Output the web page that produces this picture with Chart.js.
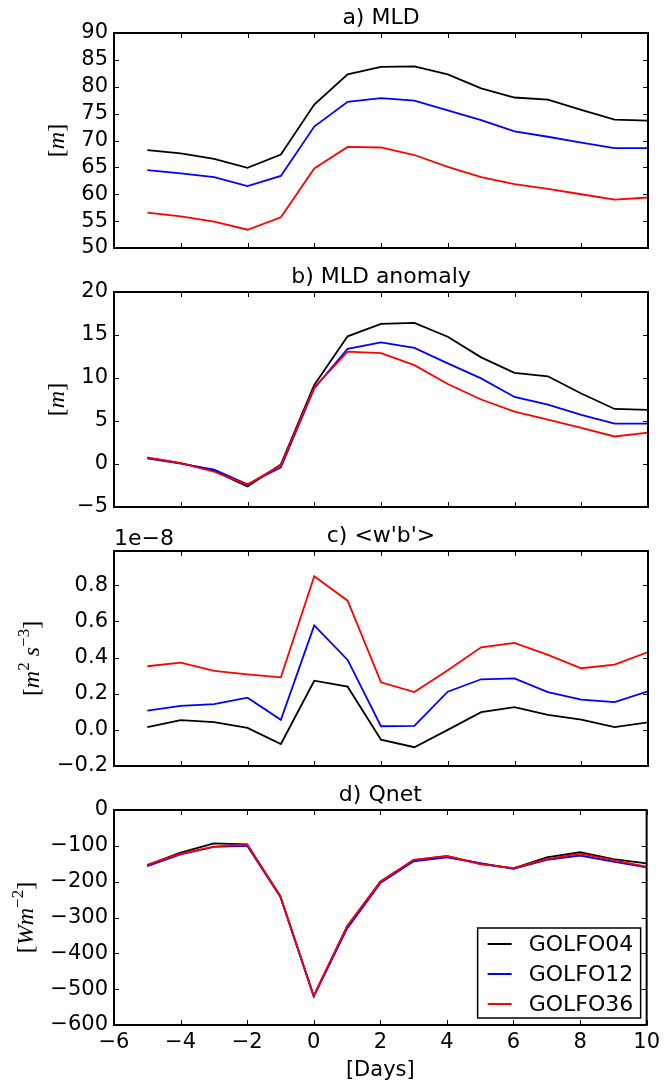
<!DOCTYPE html>
<html>
<head>
<meta charset="utf-8">
<script src="https://cdn.jsdelivr.net/npm/chart.js@4.4.0/dist/chart.umd.min.js"></script>
<style>
  body { margin: 0; background: #fff; }
  #wrap { position: relative; width: 665px; height: 1086px; }
  canvas { position: absolute; left: 0; }
</style>
</head>
<body>
<div id="wrap">
  <canvas id="pa" width="665" height="270" style="top:0px"></canvas>
  <canvas id="pb" width="665" height="270" style="top:259px"></canvas>
  <canvas id="pc" width="665" height="270" style="top:518px"></canvas>
  <canvas id="pd" width="665" height="309" style="top:777px"></canvas>
</div>
<script>
// days relative to event
const days = [-5, -4, -3, -2, -1, 0, 1, 2, 3, 4, 5, 6, 7, 8, 9, 10];
const xTicks = [-6, -4, -2, 0, 2, 4, 6, 8, 10];
const runs = ['GOLFO04', 'GOLFO12', 'GOLFO36'];
const colors = ['#000000', '#0000ff', '#ff0000'];

// a) MLD [m]
const mld04 = [68.2, 67.6, 66.6, 64.9, 67.4, 76.7, 82.3, 83.7, 83.8, 82.3, 79.7, 78.0, 77.6, 75.7, 73.9, 73.7];
const mld12 = [64.5, 63.9, 63.2, 61.5, 63.4, 72.6, 77.2, 77.9, 77.4, 75.6, 73.8, 71.7, 70.7, 69.6, 68.6, 68.6];
const mld36 = [56.6, 55.9, 54.9, 53.4, 55.7, 64.8, 68.8, 68.7, 67.3, 65.1, 63.2, 61.9, 61.0, 60.0, 59.0, 59.4];
const ticksA = [50, 55, 60, 65, 70, 75, 80, 85, 90];

// b) MLD anomaly [m]
const anom04 = [0.7, 0.1, -0.8, -2.6, -0.05, 9.2, 14.85, 16.3, 16.4, 14.8, 12.4, 10.6, 10.2, 8.2, 6.4, 6.3];
const anom12 = [0.65, 0.05, -0.65, -2.35, -0.4, 8.8, 13.4, 14.15, 13.5, 11.7, 9.95, 7.8, 6.9, 5.7, 4.7, 4.7];
const anom36 = [0.77, 0.1, -0.9, -2.4, -0.15, 8.9, 13.07, 12.9, 11.5, 9.3, 7.5, 6.1, 5.15, 4.2, 3.2, 3.65];
const ticksB = [-5, 0, 5, 10, 15, 20];

// c) <w'b'> in units of 1e-8 m2 s-3
const wb04 = [0.015, 0.054, 0.043, 0.011, -0.078, 0.272, 0.239, -0.054, -0.096, 0.0, 0.098, 0.126, 0.083, 0.057, 0.015, 0.041];
const wb12 = [0.106, 0.133, 0.143, 0.178, 0.056, 0.578, 0.387, 0.020, 0.022, 0.211, 0.280, 0.285, 0.209, 0.167, 0.154, 0.213];
const wb36 = [0.352, 0.372, 0.326, 0.307, 0.291, 0.850, 0.715, 0.263, 0.209, 0.330, 0.457, 0.481, 0.415, 0.341, 0.361, 0.431];
const ticksC = [-0.2, 0.0, 0.2, 0.4, 0.6, 0.8];

// d) Qnet [W m-2]
const qnet04 = [-154, -119, -93, -96, -241, -519, -325, -200, -140, -129, -150, -163, -132, -118, -137, -149];
const qnet12 = [-157, -124, -103, -100, -243, -521, -331, -204, -143, -132, -148, -164, -139, -127, -144, -160];
const qnet36 = [-153, -122, -102, -96, -241, -519, -325, -200, -139, -128, -151, -162, -137, -122, -140, -158];
const ticksD = [-600, -500, -400, -300, -200, -100, 0];

const FONT = '"DejaVu Sans", sans-serif';
const MATH = '"Liberation Serif", "DejaVu Serif", serif';
const minus = s => String(s).replace('-', '\u2212');

// frame, inward ticks, title, math ylabel and legend (matplotlib look)
const deco = {
  id: 'deco',
  afterDatasetsDraw(chart, args, o) {
    const ctx = chart.ctx, a = chart.chartArea;
    const xs = chart.scales.x, ys = chart.scales.y;
    ctx.save();
    ctx.strokeStyle = '#000';
    ctx.lineWidth = 1;
    ctx.beginPath();
    xTicks.forEach(v => {
      const px = Math.round(xs.getPixelForValue(v)) + 0.5;
      ctx.moveTo(px, a.bottom); ctx.lineTo(px, a.bottom - 5);
      ctx.moveTo(px, a.top); ctx.lineTo(px, a.top + 5);
    });
    ys.ticks.forEach(t => {
      const py = Math.round(ys.getPixelForValue(t.value)) + 0.5;
      ctx.moveTo(a.left, py); ctx.lineTo(a.left + 5, py);
      ctx.moveTo(a.right, py); ctx.lineTo(a.right - 5, py);
    });
    ctx.stroke();
    ctx.lineWidth = 2;
    ctx.strokeRect(a.left, a.top, a.right - a.left, a.bottom - a.top);
    ctx.restore();
  },
  afterDraw(chart, args, o) {
    const ctx = chart.ctx, a = chart.chartArea;
    ctx.save();
    ctx.fillStyle = '#000';
    // title
    ctx.font = '22px ' + FONT;
    ctx.textAlign = 'center';
    ctx.textBaseline = 'alphabetic';
    ctx.fillText(o.title, (a.left + a.right) / 2, a.top - 9);
    // offset text
    if (o.offset) {
      ctx.textAlign = 'left';
      ctx.fillText(o.offset, a.left, a.top - 6);
    }
    // y label, rotated, with italic letters and superscripts
    const sz = 24;
    const fontOf = p => (p.sup ? Math.round(sz * 0.7) + 'px ' : (p.it ? 'italic ' : '') + sz + 'px ') + MATH;
    let total = 0;
    o.ylabel.forEach(p => { ctx.font = fontOf(p); p.w = ctx.measureText(p.t).width; total += p.w; });
    ctx.translate(o.ylabelX, (a.top + a.bottom) / 2);
    ctx.rotate(-Math.PI / 2);
    ctx.textAlign = 'left';
    let x = -total / 2;
    o.ylabel.forEach(p => {
      ctx.font = fontOf(p);
      ctx.fillText(p.t, x, p.sup ? -sz * 0.42 : 0);
      x += p.w;
    });
    ctx.restore();
    // legend box inside the axes, lower right
    if (o.legend) {
      const w = 163, h = 90;
      const l = a.right - 6 - w, t = a.bottom - 7 - h;
      ctx.save();
      ctx.fillStyle = '#fff';
      ctx.fillRect(l, t, w, h);
      ctx.strokeStyle = '#000';
      ctx.lineWidth = 1.5;
      ctx.strokeRect(l, t, w, h);
      ctx.font = '22px ' + FONT;
      ctx.textBaseline = 'middle';
      runs.forEach((name, i) => {
        const y = t + 16 + i * 30;
        ctx.strokeStyle = colors[i];
        ctx.lineWidth = 2;
        ctx.beginPath();
        ctx.moveTo(l + 10, y); ctx.lineTo(l + 34, y);
        ctx.stroke();
        ctx.fillStyle = '#000';
        ctx.fillText(name, l + 51, y + 1);
      });
      ctx.restore();
    }
  }
};

function panel(id, series, yTicks, yMax, fmt, deco_opts, showX) {
  const ctx = document.getElementById(id).getContext('2d');
  return new Chart(ctx, {
    type: 'line',
    data: {
      datasets: series.map((vals, i) => ({
        label: runs[i],
        data: days.map((d, j) => ({ x: d, y: vals[j] })),
        borderColor: colors[i],
        borderWidth: 1.8,
        pointRadius: 0,
        tension: 0,
        fill: false,
        order: 3 - i
      }))
    },
    options: {
      responsive: false,
      animation: false,
      layout: { padding: { left: 0, right: 17, top: 33, bottom: showX ? 0 : 22 } },
      plugins: {
        legend: { display: false },
        tooltip: { enabled: false },
        deco: deco_opts
      },
      scales: {
        x: {
          type: 'linear',
          min: -6,
          max: 10,
          afterBuildTicks: s => { s.ticks = xTicks.map(v => ({ value: v })); },
          afterFit: s => { s.height = showX ? 61 : 0; },
          ticks: {
            display: showX,
            autoSkip: false,
            color: '#000',
            font: { family: FONT, size: 21 },
            padding: 5,
            maxRotation: 0,
            callback: v => minus(v)
          },
          grid: { display: false, drawTicks: false },
          border: { display: false },
          title: {
            display: showX,
            text: '[Days]',
            color: '#000',
            font: { family: FONT, size: 21 },
            padding: { top: 2, bottom: 3 }
          }
        },
        y: {
          min: yTicks[0],
          max: yMax,
          afterBuildTicks: s => { s.ticks = yTicks.map(v => ({ value: v })); },
          afterFit: s => { s.width = 114; },
          ticks: {
            autoSkip: false,
            color: '#000',
            font: { family: FONT, size: 21 },
            padding: 6,
            callback: v => minus(fmt(v))
          },
          grid: { display: false, drawTicks: false },
          border: { display: false }
        }
      }
    },
    plugins: [deco]
  });
}

const bracketM = [{ t: '[' }, { t: 'm', it: true }, { t: ']' }];

panel('pa', [mld04, mld12, mld36], ticksA, 90, v => v.toFixed(0),
  { title: 'a) MLD', ylabel: bracketM.map(p => ({ ...p })), ylabelX: 64 }, false);
panel('pb', [anom04, anom12, anom36], ticksB, 20, v => v.toFixed(0),
  { title: 'b) MLD anomaly', ylabel: bracketM.map(p => ({ ...p })), ylabelX: 64 }, false);
panel('pc', [wb04, wb12, wb36], ticksC, 0.99, v => v.toFixed(1),
  { title: "c) <w'b'>", offset: '1e\u22128', ylabelX: 39,
    ylabel: [{ t: '[' }, { t: 'm', it: true }, { t: '2', sup: true }, { t: ' s', it: true }, { t: '\u22123', sup: true }, { t: ']' }] }, false);
panel('pd', [qnet04, qnet12, qnet36], ticksD, 0, v => v.toFixed(0),
  { title: 'd) Qnet', legend: true, ylabelX: 33,
    ylabel: [{ t: '[' }, { t: 'Wm', it: true }, { t: '\u22122', sup: true }, { t: ']' }] }, true);
</script>
</body>
</html>
